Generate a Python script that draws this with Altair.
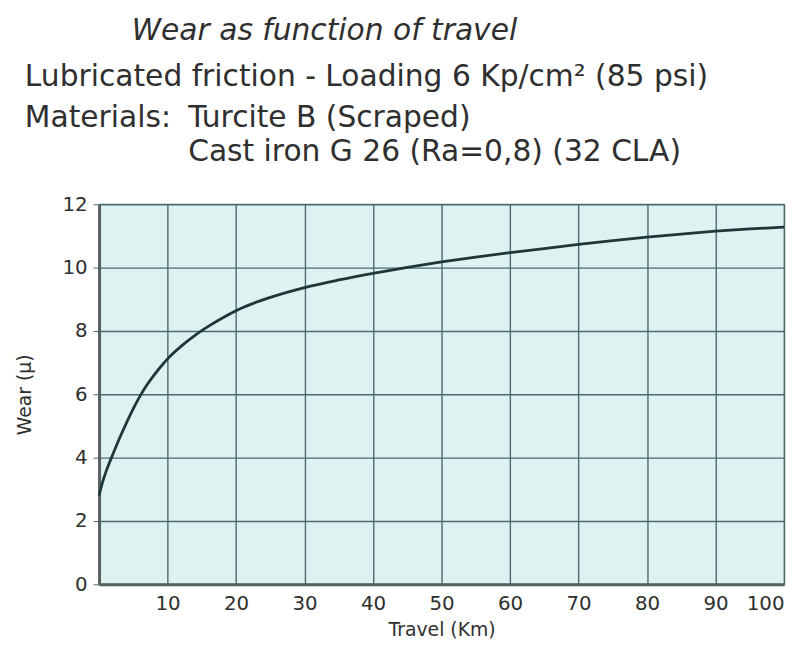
import altair as alt
import pandas as pd

# ---- data ----
travel_km = [0, 0.5, 1, 2, 3, 4, 5, 6, 7, 8, 9, 10, 12, 14, 16, 18, 20, 22.5, 25, 30,
             35, 40, 45, 50, 55, 60, 65, 70, 75, 80, 85, 90, 95, 100]
wear_um = [2.8, 3.22, 3.55, 4.1, 4.62, 5.1, 5.55, 5.95, 6.3, 6.6, 6.87, 7.12, 7.52,
           7.86, 8.15, 8.41, 8.64, 8.87, 9.06, 9.37, 9.61, 9.82, 10.01, 10.18, 10.33,
           10.47, 10.6, 10.73, 10.85, 10.96, 11.06, 11.15, 11.22, 11.28]
x_ticks = [10, 20, 30, 40, 50, 60, 70, 80, 90, 100]
y_ticks = [0, 2, 4, 6, 8, 10, 12]

title_line = "Wear as function of travel"
line2 = "Lubricated friction - Loading 6 Kp/cm² (85 psi)"
line3a = "Materials:"
line3b = "Turcite B (Scraped)"
line4 = "Cast iron G 26 (Ra=0,8) (32 CLA)"

FONT = "DejaVu Sans"
TXT = "#2f2f2f"

df = pd.DataFrame({"km": travel_km, "wear": wear_um})

x_enc = alt.X("km:Q", scale=alt.Scale(domain=[0, 100], nice=False),
              axis=alt.Axis(values=x_ticks, title="Travel (Km)", labelFlush=True,
                            tickSize=0, labelPadding=9, titlePadding=8,
                            grid=True, gridColor="#4a6a6c", gridWidth=1.4,
                            domainColor="#56605f", domainWidth=3,
                            labelFont=FONT, labelFontSize=20, labelColor=TXT,
                            titleFont=FONT, titleFontSize=19, titleFontWeight="normal",
                            titleColor=TXT))
y_enc = alt.Y("wear:Q", scale=alt.Scale(domain=[0, 12], nice=False),
              axis=alt.Axis(values=y_ticks, title="Wear (μ)", tickSize=6,
                            tickColor="#4a6a6c", labelPadding=6, titlePadding=28,
                            grid=True, gridColor="#4a6a6c", gridWidth=1.4,
                            domainColor="#56605f", domainWidth=3,
                            labelFont=FONT, labelFontSize=20, labelColor=TXT,
                            titleFont=FONT, titleFontSize=19, titleFontWeight="normal",
                            titleColor=TXT))

curve = alt.Chart(df).mark_line(color="#1e3838", strokeWidth=2.8,
                                interpolate="monotone").encode(x=x_enc, y=y_enc)


def label(text, x, y, italic=False):
    return alt.Chart(pd.DataFrame({"t": [text]})).mark_text(
        font=FONT, fontSize=30, color=TXT, align="left", baseline="alphabetic",
        fontStyle="italic" if italic else "normal"
    ).encode(text="t:N", x=alt.value(x), y=alt.value(y))


texts = [
    label(title_line, 33, 37 - 203, italic=True),
    label(line2, -75, 84 - 203),
    label(line3a, -75, 125 - 203),
    label(line3b, 90, 125 - 203),
    label(line4, 90, 159 - 203),
]

chart = alt.layer(curve, *texts).properties(
    width=692, height=384,
    autosize=alt.AutoSizeParams(type="none"),
    padding={"left": 92, "top": 195, "right": 5, "bottom": 57},
    background="white",
).configure_view(fill="#def2f2", stroke="#a8bcbc", strokeWidth=1.5)

chart.save("out.html", embed_options={"renderer": "svg", "actions": False})
